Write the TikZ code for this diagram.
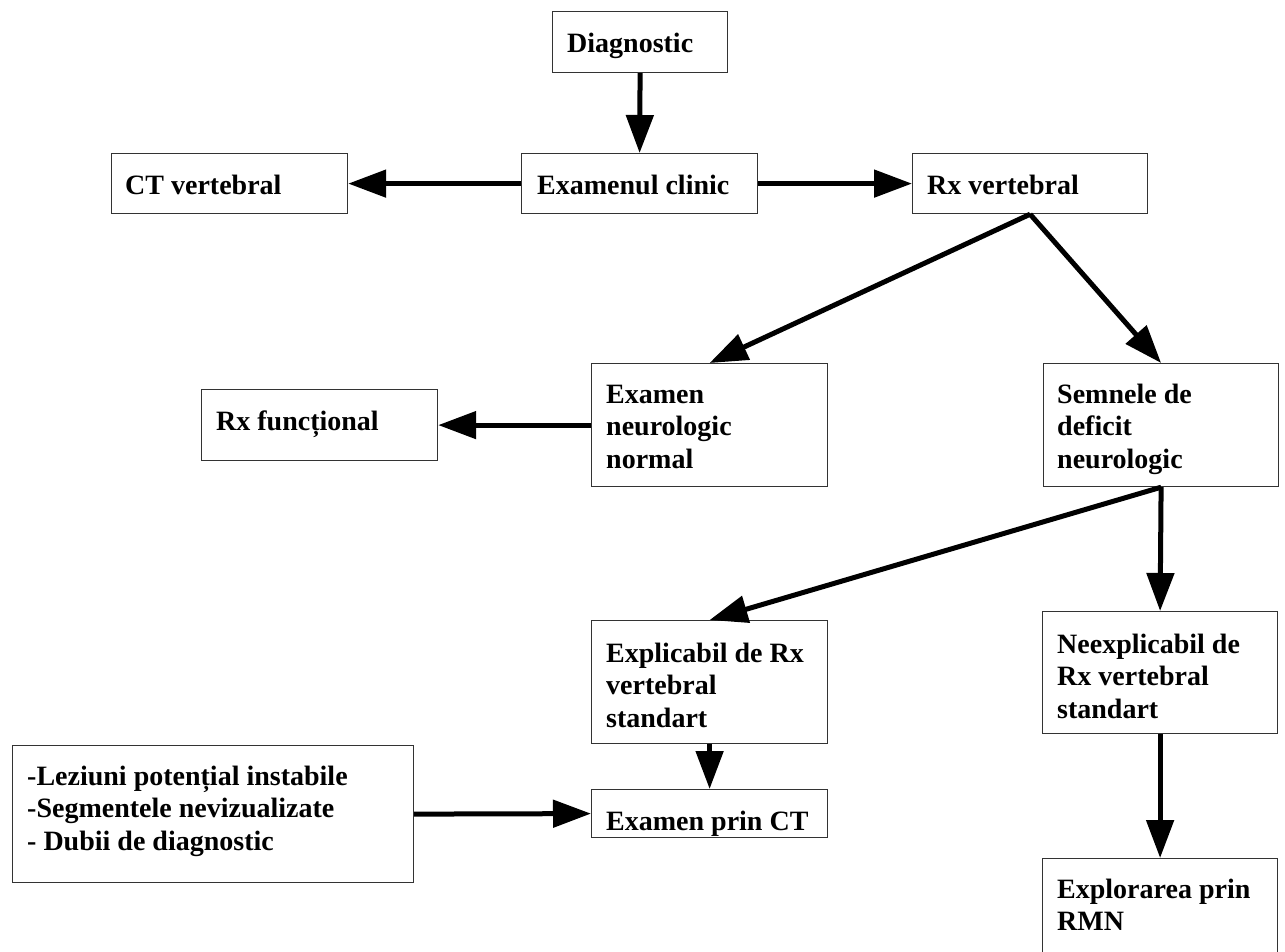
\documentclass[tikz,border=0pt]{standalone}
\usepackage{fontspec}
\setmainfont{Liberation Serif}
\usetikzlibrary{arrows.meta}
\begin{document}
\begin{tikzpicture}[x=1pt,y=-1pt,
  box/.style={draw=black!80, line width=1.2pt, fill=white, inner sep=0pt, anchor=north west},
  txt/.style={anchor=base west, inner sep=0pt, font=\fontsize{28}{32.5}\selectfont\bfseries},
  arr/.style={line width=5pt, -{Triangle[length=38pt,width=27pt]}}]
\useasboundingbox (0,0) rectangle (1285,951);
\fill[white] (0,0) rectangle (1285,951);
% boxes
\node[box, minimum width=175pt, minimum height=61pt] (diag) at (552,11) {};
\node[box, minimum width=236pt, minimum height=60pt] (clin) at (521,153) {};
\node[box, minimum width=236pt, minimum height=60pt] (ctv) at (111,153) {};
\node[box, minimum width=235pt, minimum height=60pt] (rxv) at (912,153) {};
\node[box, minimum width=236pt, minimum height=123pt] (neur) at (591,363) {};
\node[box, minimum width=236pt, minimum height=71pt] (rxf) at (201,389) {};
\node[box, minimum width=235pt, minimum height=123pt] (semn) at (1043,363) {};
\node[box, minimum width=236pt, minimum height=123pt] (expl) at (591,620) {};
\node[box, minimum width=235pt, minimum height=122pt] (neex) at (1042,611) {};
\node[box, minimum width=236pt, minimum height=48pt] (ctx) at (591,789) {};
\node[box, minimum width=401pt, minimum height=137pt] (lez) at (12,745) {};
\node[box, minimum width=235pt, minimum height=97pt] (rmn) at (1042,858) {};
% texts
\node[txt] (tdiag) at (567,52) {Diagnostic};
\node[txt] (tclin) at (537,194) {Examenul clinic};
\node[txt] (tctv) at (125,194) {CT vertebral};
\node[txt] (trxv) at (927,194) {Rx vertebral};
\node[txt] (tneur) at (606,403) {\begin{tabular}[t]{@{}l@{}}Examen\\neurologic\\normal\end{tabular}};
\node[txt] (trxf) at (216,430) {Rx funcțional};
\node[txt] (tsemn) at (1057,403) {\begin{tabular}[t]{@{}l@{}}Semnele de\\deficit\\neurologic\end{tabular}};
\node[txt] (texpl) at (606,662) {\begin{tabular}[t]{@{}l@{}}Explicabil de Rx\\vertebral\\standart\end{tabular}};
\node[txt] (tneex) at (1057,653) {\begin{tabular}[t]{@{}l@{}}Neexplicabil de\\Rx vertebral\\standart\end{tabular}};
\node[txt] (tctx) at (606,830) {Examen prin CT};
\node[txt] (tlez) at (27,785) {\begin{tabular}[t]{@{}l@{}}-Leziuni potențial instabile\\-Segmentele nevizualizate\\- Dubii de diagnostic\end{tabular}};
\node[txt] (trmn) at (1057,898) {\begin{tabular}[t]{@{}l@{}}Explorarea prin\\RMN\end{tabular}};
% arrows
\draw[arr] (diag.south) -- (clin.north);
\draw[arr] (clin.west) -- (ctv.east);
\draw[arr] (clin.east) -- (rxv.west);
\draw[arr] (rxv.south) -- (neur.north);
\draw[arr] (rxv.south) -- (semn.north);
\draw[arr] (neur.west) -- (rxf.east);
\draw[arr] (semn.south) -- (expl.north);
\draw[arr] (semn.south) -- (neex.north);
\draw[arr] (expl.south) -- (ctx.north);
\draw[arr] (lez.east) -- (ctx.west);
\draw[arr] (neex.south) -- (rmn.north);
\end{tikzpicture}
\end{document}
